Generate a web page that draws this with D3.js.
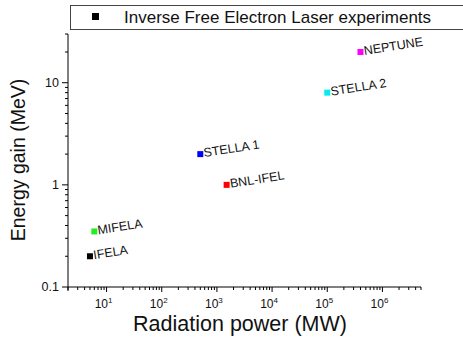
<!DOCTYPE html>
<html>
<head>
<meta charset="utf-8">
<script src="https://cdn.jsdelivr.net/npm/d3@7"></script>
<style>
  body { margin: 0; background: #fff; }
  svg { font-family: "Liberation Sans", Arial, sans-serif; }
</style>
</head>
<body>
<svg id="chart" width="463" height="337"></svg>
<script>
// experiments (power in MW, gain in MeV)
var names  = ["IFELA", "MIFELA", "STELLA 1", "BNL-IFEL", "STELLA 2", "NEPTUNE"];
var power  = [5, 6, 500, 1500, 1e5, 4e5];
var gain   = [0.2, 0.35, 2, 1, 8, 20];
var colors = ["#000000", "#22ee22", "#0000ff", "#ff0000", "#00eeee", "#ff00ff"];

var xTicks = [10, 100, 1000, 1e4, 1e5, 1e6];
var yTicks = [0.1, 1, 10];

var svg = d3.select("#chart");
var m = {left: 68, right: 421, top: 34, bottom: 287};

var x = d3.scaleLog().domain([2, 5e6]).range([m.left, m.right]);
var y = d3.scaleLog().domain([0.1, 30]).range([m.bottom, m.top]);

// minor ticks 1..9 per decade inside [lo, hi]
function minors(lo, hi) {
  var out = [];
  for (var e = -2; e <= 7; e++) {
    for (var k = 1; k < 10; k++) {
      var v = k * Math.pow(10, e);
      if (v >= lo * 0.9999 && v <= hi * 1.0001) out.push(v);
    }
  }
  return out;
}
function isMajor(list, d) {
  return list.some(function(t) { return Math.abs(t - d) / t < 1e-9; });
}

var g = svg.append("g");

// x axis
g.append("line")
  .attr("x1", m.left).attr("x2", m.right)
  .attr("y1", m.bottom).attr("y2", m.bottom)
  .attr("stroke", "#000");
g.selectAll("line.xt").data(minors(2, 5e6)).enter().append("line")
  .attr("class", "xt")
  .attr("x1", function(d) { return x(d); }).attr("x2", function(d) { return x(d); })
  .attr("y1", m.bottom)
  .attr("y2", function(d) { return m.bottom + (isMajor(xTicks, d) ? 5 : 3); })
  .attr("stroke", "#000");
var xl = g.selectAll("text.xl").data(xTicks).enter().append("text")
  .attr("class", "xl")
  .attr("x", function(d) { return x(d) - 3; })
  .attr("y", m.bottom + 21)
  .attr("text-anchor", "middle")
  .style("font-size", "12px")
  .attr("fill", "#111");
xl.append("tspan").text("10");
xl.append("tspan")
  .attr("dy", -5)
  .style("font-size", "8px")
  .text(function(d) { return Math.round(Math.log10(d)); });

// y axis
g.append("line")
  .attr("x1", m.left).attr("x2", m.left)
  .attr("y1", m.top).attr("y2", m.bottom + 4)
  .attr("stroke", "#000");
g.selectAll("line.yt").data(minors(0.1, 30)).enter().append("line")
  .attr("class", "yt")
  .attr("y1", function(d) { return y(d); }).attr("y2", function(d) { return y(d); })
  .attr("x1", m.left)
  .attr("x2", function(d) { return m.left - (isMajor(yTicks, d) ? 6 : 3); })
  .attr("stroke", "#000");
g.selectAll("text.yl").data(yTicks).enter().append("text")
  .attr("class", "yl")
  .attr("x", m.left - 9)
  .attr("y", function(d) { return y(d) + 4; })
  .attr("text-anchor", "end")
  .style("font-size", "12.5px")
  .attr("fill", "#111")
  .text(function(d) { return d; });

// axis titles
svg.append("text")
  .attr("x", 240).attr("y", 331)
  .attr("text-anchor", "middle")
  .style("font-size", "21.5px")
  .attr("fill", "#111")
  .text("Radiation power (MW)");
svg.append("text")
  .attr("transform", "translate(25,160) rotate(-90)")
  .attr("text-anchor", "middle")
  .style("font-size", "19.5px")
  .attr("fill", "#111")
  .text("Energy gain (MeV)");

// points
var pts = names.map(function(n, i) {
  return {name: n, p: power[i], g: gain[i], c: colors[i]};
});
var pt = svg.selectAll("g.pt").data(pts).enter().append("g").attr("class", "pt");
pt.append("rect")
  .attr("x", function(d) { return x(d.p) - 3; })
  .attr("y", function(d) { return y(d.g) - 3; })
  .attr("width", 6).attr("height", 6)
  .attr("fill", function(d) { return d.c; });
pt.append("text")
  .attr("transform", function(d) {
    return "translate(" + (x(d.p) + 4) + "," + (y(d.g) + 3) + ") rotate(-9)";
  })
  .style("font-size", "12.5px")
  .attr("fill", "#111")
  .text(function(d) { return d.name; });

// legend
var lg = svg.append("g");
lg.append("rect")
  .attr("x", 70.5).attr("y", 5.5)
  .attr("width", 420).attr("height", 24)
  .attr("fill", "#fff")
  .attr("stroke", "#444");
lg.append("rect")
  .attr("x", 92).attr("y", 13).attr("width", 7).attr("height", 7)
  .attr("fill", "#000");
lg.append("text")
  .attr("x", 124).attr("y", 23)
  .style("font-size", "17px")
  .attr("fill", "#111")
  .text("Inverse Free Electron Laser experiments");
</script>
</body>
</html>
